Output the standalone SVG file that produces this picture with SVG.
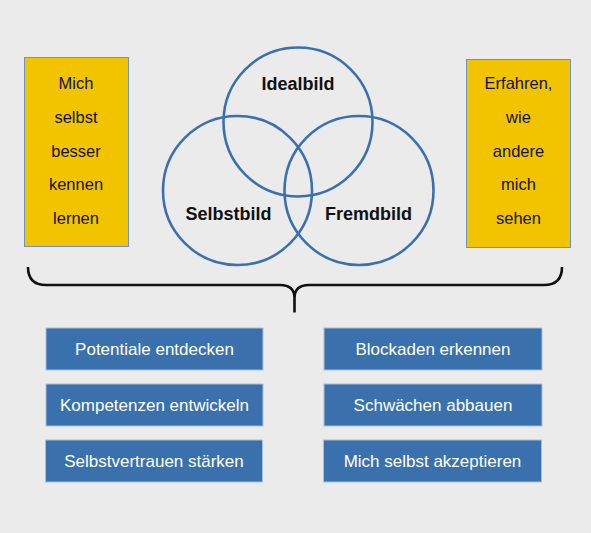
<svg xmlns="http://www.w3.org/2000/svg" width="591" height="533" viewBox="0 0 591 533">
<style>
.yb{fill:#f2c400;stroke:#6b93c4;stroke-width:1}
.yt{font-family:"Liberation Sans",Arial,sans-serif;font-size:16.5px;fill:#111;text-anchor:middle}
.c{fill:none;stroke:#3b70ae;stroke-width:2.6}
.cl{font-family:"Liberation Sans",Arial,sans-serif;font-size:18px;font-weight:bold;fill:#111;text-anchor:middle}
.bb{fill:#3a71ac;stroke:#a9bfd9;stroke-width:1}
.bt{font-family:"Liberation Sans",Arial,sans-serif;font-size:17px;fill:#fff;text-anchor:middle}
.br{fill:none;stroke:#111;stroke-width:2.6}
</style>
<rect x="0" y="0" width="591" height="533" fill="#ebebeb"/>
<g id="box-left">
<rect class="yb" x="24.5" y="57.5" width="104" height="189"/>
<text class="yt" x="76" y="89">Mich</text>
<text class="yt" x="76" y="123">selbst</text>
<text class="yt" x="76" y="157">besser</text>
<text class="yt" x="76" y="190">kennen</text>
<text class="yt" x="76" y="224">lernen</text>
</g>
<g id="box-right">
<rect class="yb" x="466.5" y="59.5" width="104" height="188"/>
<text class="yt" x="518.5" y="89">Erfahren,</text>
<text class="yt" x="518.5" y="123">wie</text>
<text class="yt" x="518.5" y="157">andere</text>
<text class="yt" x="518.5" y="190">mich</text>
<text class="yt" x="518.5" y="224">sehen</text>
</g>
<g id="idealbild">
<circle class="c" cx="298" cy="122" r="74.5"/>
<text class="cl" x="298" y="90">Idealbild</text>
</g>
<g id="selbstbild">
<circle class="c" cx="237.5" cy="190.5" r="74.5"/>
<text class="cl" x="228.5" y="220">Selbstbild</text>
</g>
<g id="fremdbild">
<circle class="c" cx="359" cy="190.5" r="74.5"/>
<text class="cl" x="368.5" y="220">Fremdbild</text>
</g>
<g id="connectors">
<path class="br" d="M28,267 Q28,285 46,285 L280,285 Q294.5,285 294.5,298 L294.5,312.5 M294.5,298 Q294.5,285 309,285 L544,285 Q562,285 562,267"/>
</g>
<g id="potentiale">
<rect class="bb" x="46" y="328" width="217" height="42"/>
<text class="bt" x="154.5" y="355">Potentiale entdecken</text>
</g>
<g id="blockaden">
<rect class="bb" x="324" y="328" width="218" height="42"/>
<text class="bt" x="433" y="355">Blockaden erkennen</text>
</g>
<g id="kompetenzen">
<rect class="bb" x="46" y="384" width="217" height="42"/>
<text class="bt" x="154.5" y="411">Kompetenzen entwickeln</text>
</g>
<g id="schwaechen">
<rect class="bb" x="324" y="384" width="218" height="42"/>
<text class="bt" x="433" y="411">Schwächen abbauen</text>
</g>
<g id="selbstvertrauen">
<rect class="bb" x="45.5" y="440" width="217" height="42"/>
<text class="bt" x="154" y="467">Selbstvertrauen stärken</text>
</g>
<g id="akzeptieren">
<rect class="bb" x="323.5" y="440" width="218" height="42"/>
<text class="bt" x="432.5" y="467">Mich selbst akzeptieren</text>
</g>
</svg>
